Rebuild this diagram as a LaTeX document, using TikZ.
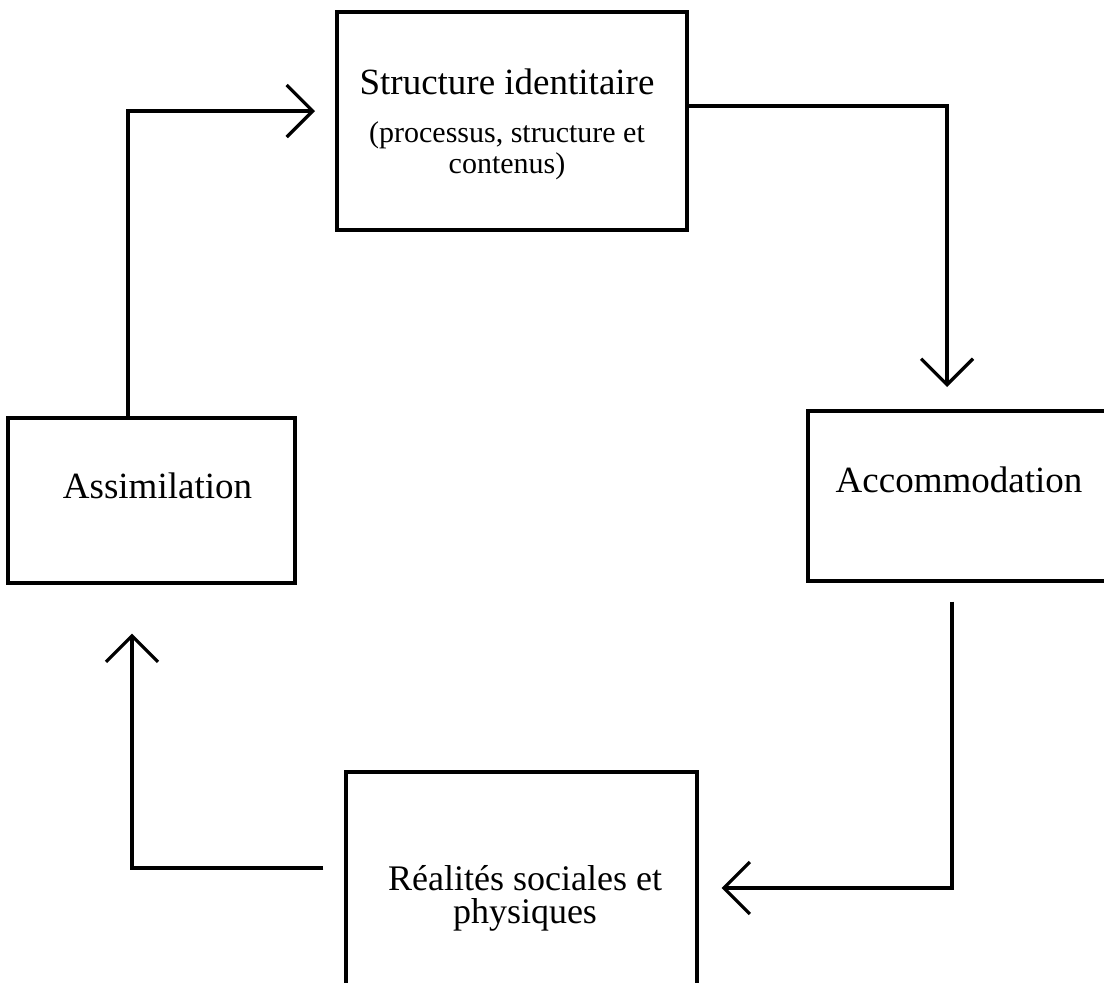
\documentclass[tikz,border=0pt]{standalone}
\usepackage{fontspec}
\setmainfont{Liberation Serif}
\usetikzlibrary{arrows.meta}
\newcommand{\Tsize}{\fontsize{37}{44}\selectfont}
\newcommand{\Ssize}{\fontsize{30}{26}\selectfont\lineskiplimit=-50pt\relax}
\newcommand{\Rsize}{\fontsize{36}{33}\selectfont\lineskiplimit=-50pt\relax}
\tikzstyle{stage} = [rectangle,draw=black,line width=3.2pt,inner sep=0pt]
\tikzstyle{flow} = [-{Straight Barb[length=26pt,width=52pt]},line width=3.2pt]

\begin{document}
\begin{tikzpicture}[x=1pt, y=-1pt, every label/.style={font=\Tsize, align=center, text=black}]
\useasboundingbox (0,0) rectangle (1104,983);
\clip (0,0) rectangle (1104,983);

% Define nodes
\node[stage, minimum width=350pt, minimum height=218pt,
      label={[xshift=-5pt, yshift=-3pt, font=\Ssize]center:{{\Tsize Structure identitaire}\\[22pt](processus, structure et\\[5pt]contenus)}}]
                                        (ident) at (512,121) {};
\node[stage, minimum width=287pt, minimum height=165pt,
      label={[xshift=6pt, yshift=15pt]center:Assimilation}]
                                        (assim) at (151.5,500.5) {};
\node[stage, minimum width=312pt, minimum height=170pt,
      label={[xshift=-5pt, yshift=16.5pt]center:Accommodation}]
                                        (accom) at (964,496) {};
\node[stage, minimum width=351pt, minimum height=238pt,
      label={[xshift=3.5pt, yshift=-7pt, font=\Rsize]center:{Réalités sociales et\\physiques}}]
                                        (real) at (521.5,891) {};

% Loose ends
\coordinate (inA)  at (315,111);
\coordinate (inB)  at (947,387);
\coordinate (outC) at ([xshift=-12pt, yshift=-19pt]accom.south);
\coordinate (inC)  at ([xshift=23pt, yshift=3pt]real.east);
\coordinate (outD) at ([xshift=-21pt, yshift=23pt]real.west);
\coordinate (inD)  at ([xshift=-19.5pt, yshift=-49pt]assim.south);

% Edges
\draw[flow] ([xshift=-23.5pt]assim.north) |- (inA);%
\draw[flow] ([yshift=15pt]ident.east) -| (inB);%
\draw[flow] (outC) |- (inC);%
\draw[flow] (outD) -| (inD);%
\end{tikzpicture}
\end{document}
